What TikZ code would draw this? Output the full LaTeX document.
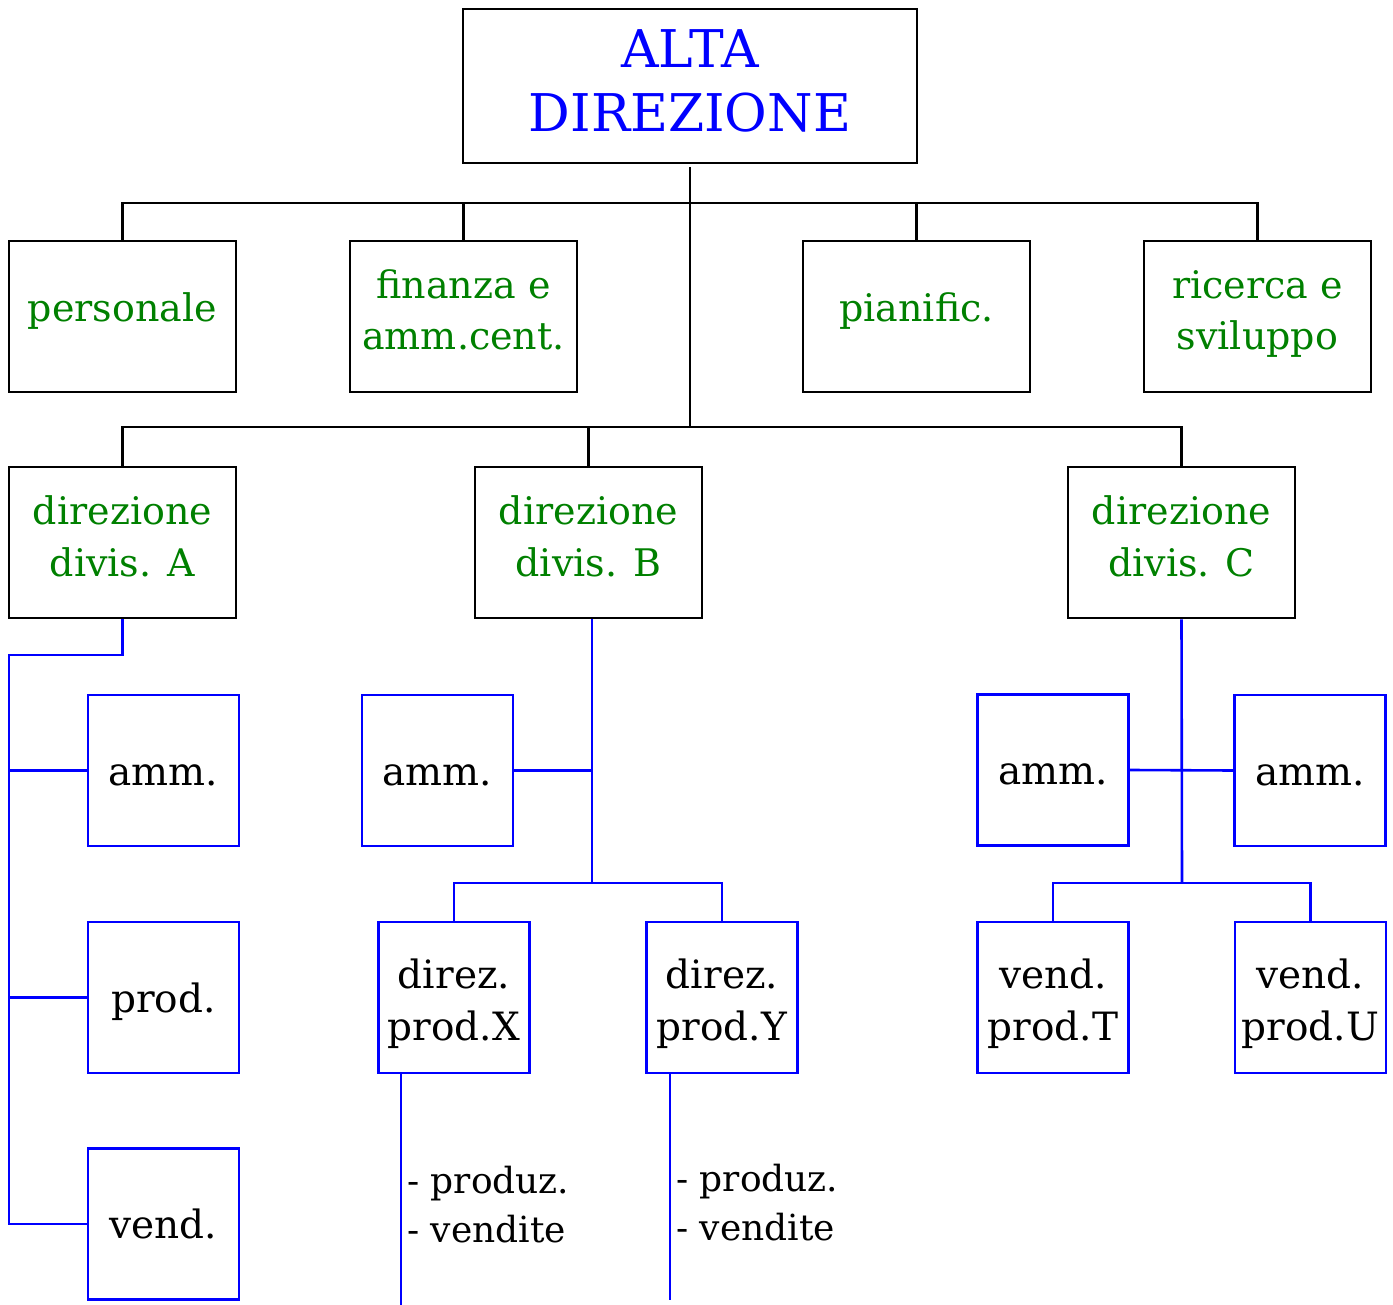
\documentclass[tikz,border=0pt]{standalone}
\usepackage{fontspec}
\setmainfont{DejaVu Serif}
\definecolor{topblue}{RGB}{0,0,255}
\definecolor{unitgreen}{RGB}{0,128,0}
% centred lines: #1 = raise of first baseline above node centre, #2 = line distance
\newcommand{\boxlines}[3]{\raisebox{#1}[0pt][0pt]{\vtop{\baselineskip=#2\relax\lineskiplimit=-100pt\relax\let\\\cr\halign{\hfil##\hfil\cr#3\crcr}}}}
\newcommand{\leftlines}[3]{\raisebox{#1}[0pt][0pt]{\vtop{\baselineskip=#2\relax\lineskiplimit=-100pt\relax\let\\\cr\halign{##\hfil\cr#3\crcr}}}}
\begin{document}
\begin{tikzpicture}[x=1pt,y=-1pt,
  blk/.style={line width=2.6pt,black},
  bl/.style={line width=2.6pt,topblue},
  topbox/.style={draw,line width=2.6pt,minimum width=454pt,minimum height=154pt,inner sep=0pt,text=topblue,font=\fontsize{52}{64}\selectfont},
  staffbox/.style={draw,line width=2.6pt,minimum width=227pt,minimum height=151pt,inner sep=0pt,text=unitgreen,font=\fontsize{38}{51}\selectfont},
  unitbox/.style={draw=topblue,line width=2.6pt,minimum width=151pt,minimum height=151pt,inner sep=0pt,text=black,font=\fontsize{39}{52}\selectfont},
  note/.style={anchor=west,inner sep=0pt,text=black,font=\fontsize{36}{49}\selectfont}]
\useasboundingbox (0,0) rectangle (1393,1305);

\node[topbox] (top) at (690,86) {\boxlines{18pt}{64pt}{ALTA\\DIREZIONE}};
\node[staffbox] (pers) at (122.5,316.5) {\boxlines{-5pt}{51pt}{personale}};
\node[staffbox] (fin) at (463.5,316.5) {\boxlines{18pt}{51.5pt}{finanza e\\amm.cent.}};
\node[staffbox] (pian) at (916.5,316.5) {\boxlines{-5pt}{51pt}{pianific.}};
\node[staffbox] (ric) at (1257.5,316.5) {\boxlines{18pt}{51.5pt}{ricerca e\\sviluppo}};
\node[staffbox] (divA) at (122.5,542.5) {\boxlines{17.5pt}{51.5pt}{direzione\\divis. A}};
\node[staffbox] (divB) at (588.5,542.5) {\boxlines{17.5pt}{51.5pt}{direzione\\divis. B}};
\node[staffbox] (divC) at (1181.5,542.5) {\boxlines{17.5pt}{51.5pt}{direzione\\divis. C}};
\node[unitbox] (ammA) at (163.5,770.5) {\boxlines{-14.5pt}{52pt}{amm.}};
\node[unitbox] (prodA) at (163.5,997.5) {\boxlines{-14.5pt}{52pt}{prod.}};
\node[unitbox] (vendA) at (163.5,1224) {\boxlines{-14.5pt}{52pt}{vend.}};
\node[unitbox] (ammB) at (437.5,770.5) {\boxlines{-14.5pt}{52pt}{amm.}};
\node[unitbox] (dirX) at (454,997.5) {\boxlines{9.5pt}{52pt}{direz.\\prod.X}};
\node[unitbox] (dirY) at (722,997.5) {\boxlines{9.5pt}{52pt}{direz.\\prod.Y}};
\node[unitbox] (ammC1) at (1053,770) {\boxlines{-14.5pt}{52pt}{amm.}};
\node[unitbox] (ammC2) at (1310,770.5) {\boxlines{-14.5pt}{52pt}{amm.}};
\node[unitbox] (vendT) at (1053,997.5) {\boxlines{9.5pt}{52pt}{vend.\\prod.T}};
\node[unitbox] (vendU) at (1310.5,997.5) {\boxlines{9.5pt}{52pt}{vend.\\prod.U}};
\node[note] (noteX) at (407,1193) {\leftlines{0pt}{49pt}{- produz.\\- vendite}};
\node[note] (noteY) at (676,1191.5) {\leftlines{0pt}{48.5pt}{- produz.\\- vendite}};

% staff and divisions (black)
\coordinate (topout) at (690,167);
\coordinate (busS) at (690,203);
\coordinate (busD) at (690,427);
\draw[blk] (topout) -- (busD);
\draw[blk] (pers.north) |- (busS) -| (ric.north);
\draw[blk] (fin.north) -- (fin.north |- busS);
\draw[blk] (pian.north) -- (pian.north |- busS);
\draw[blk] (divA.north) |- (busD) -| (divC.north);
\draw[blk] (divB.north) -- (divB.north |- busD);

% division A
\coordinate (spineA) at (9,655);
\draw[bl] (divA.south) |- (spineA) |- (vendA.west);
\draw[bl] (ammA.west) -- (ammA.west -| spineA);
\draw[bl] (prodA.west) -- (prodA.west -| spineA);

% division B
\coordinate (jB) at (592,883);
\draw[bl] (divB.south -| jB) -- (jB);
\draw[bl] (ammB.east) -- (ammB.east -| jB);
\draw[bl] (dirX.north) |- (jB) -| (dirY.north);
\coordinate (endX) at (401,1305);
\coordinate (endY) at (670,1300);
\draw[bl] (dirX.south -| endX) -- (endX);
\draw[bl] (dirY.south -| endY) -- (endY);

% division C
\coordinate (jC) at (1182,883);
\draw[bl] (divC.south) -- (jC);
\draw[bl] (ammC1.east) -- (ammC2.west);
\draw[bl] (vendT.north) |- (jC) -| (vendU.north);
\end{tikzpicture}
\end{document}
